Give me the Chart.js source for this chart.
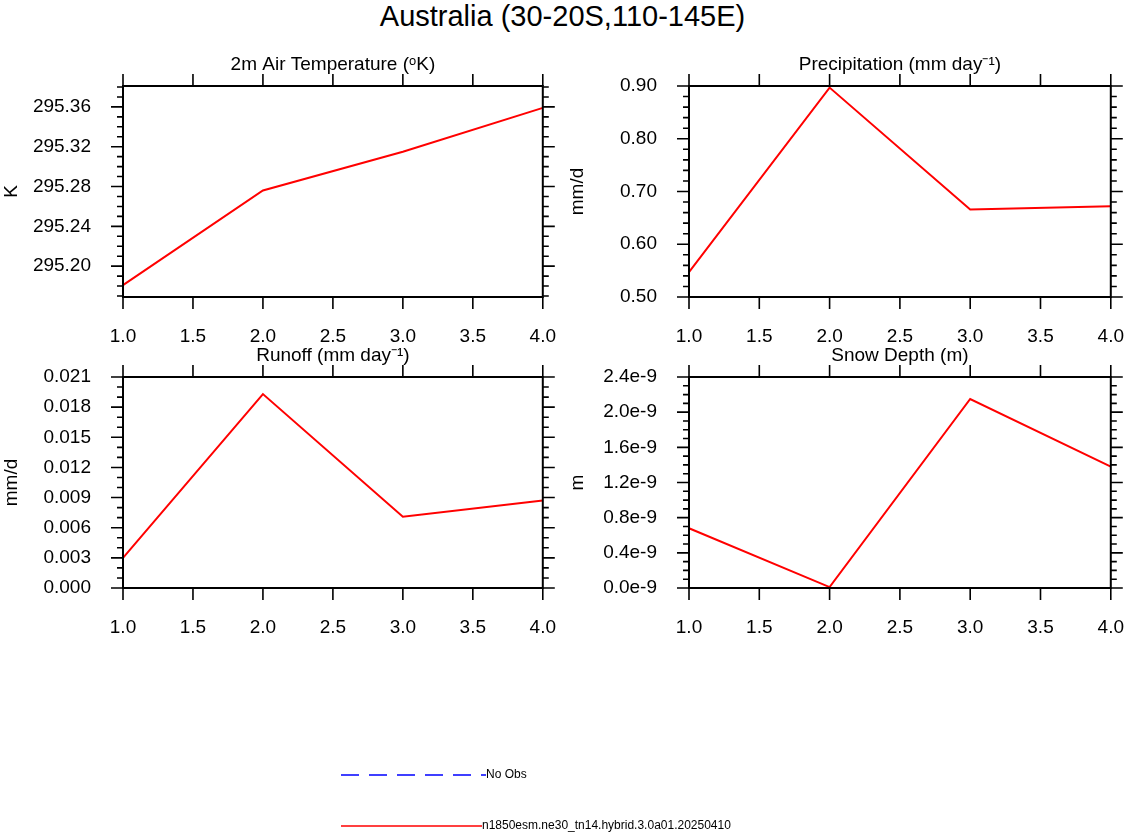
<!DOCTYPE html>
<html>
<head>
<meta charset="utf-8">
<script src="https://cdn.jsdelivr.net/npm/chart.js@4.4.1/dist/chart.umd.min.js"></script>
<style>
  body { margin: 0; background: #fff; width: 1125px; height: 834px; position: relative; overflow: hidden; font-family: "Liberation Sans", Arial, sans-serif; }
  canvas.panel { position: absolute; }
  #title { position: absolute; top: 0; left: 0; width: 1125px; text-align: center; font-size: 29px; line-height: 32px; }
  #legend { position: absolute; left: 0; top: 0; }
</style>
</head>
<body>
<div id="title">Australia (30-20S,110-145E)</div>
<canvas id="c1" class="panel" style="left:0px;top:40px;width:576px;height:320px" width="576" height="320"></canvas>
<canvas id="c2" class="panel" style="left:566px;top:40px;width:578px;height:320px" width="578" height="320"></canvas>
<canvas id="c3" class="panel" style="left:0px;top:331px;width:576px;height:320px" width="576" height="320"></canvas>
<canvas id="c4" class="panel" style="left:566px;top:331px;width:578px;height:320px" width="578" height="320"></canvas>
<canvas id="legend" width="1125" height="834"></canvas>
<script>
// x positions (cases)
const xVals = [1, 2, 3, 4];
const xTicks = [1.0, 1.5, 2.0, 2.5, 3.0, 3.5, 4.0];

const tempVals = [295.181, 295.276, 295.315, 295.359];
const tempTicks = [295.20, 295.24, 295.28, 295.32, 295.36];
const precVals = [0.547, 0.897, 0.666, 0.672];
const precTicks = [0.50, 0.60, 0.70, 0.80, 0.90];
const runoffVals = [0.0030, 0.0193, 0.0071, 0.0087];
const runoffTicks = [0.000, 0.003, 0.006, 0.009, 0.012, 0.015, 0.018, 0.021];
const snowVals = [0.68e-9, 0.01e-9, 2.15e-9, 1.38e-9];
const snowTicks = [0, 0.4e-9, 0.8e-9, 1.2e-9, 1.6e-9, 2.0e-9, 2.4e-9];

const FONT = '"Liberation Sans", Arial, sans-serif';

// frame + outward ticks on all four sides, plus panel title
const framePlugin = {
  id: 'frame',
  afterDraw(chart, args, opts) {
    const ctx = chart.ctx, a = chart.chartArea;
    const xs = chart.scales.x, ys = chart.scales.y;
    ctx.save();
    ctx.strokeStyle = '#000';
    ctx.lineWidth = 2;
    ctx.strokeRect(a.left, a.top, a.right - a.left, a.bottom - a.top);
    ctx.lineWidth = 1.6;
    ctx.beginPath();
    opts.xTicks.forEach(v => {
      const px = xs.getPixelForValue(v);
      ctx.moveTo(px, a.bottom); ctx.lineTo(px, a.bottom + 12);
      ctx.moveTo(px, a.top); ctx.lineTo(px, a.top - 12);
    });
    const yt = opts.yTicks;
    const step = (yt[1] - yt[0]) / opts.minor;
    const n0 = Math.ceil((ys.min - yt[0]) / step - 1e-6);
    const n1 = Math.floor((ys.max - yt[0]) / step + 1e-6);
    for (let i = n0; i <= n1; i++) {
      const py = ys.getPixelForValue(yt[0] + i * step);
      const len = (i % opts.minor === 0) ? 12 : 6;
      ctx.moveTo(a.left, py); ctx.lineTo(a.left - len, py);
      ctx.moveTo(a.right, py); ctx.lineTo(a.right + len, py);
    }
    ctx.stroke();
    ctx.fillStyle = '#000';
    ctx.font = '19px ' + FONT;
    ctx.textAlign = 'center';
    ctx.fillText(opts.title, (a.left + a.right) / 2, a.top - 16);
    ctx.restore();
  }
};

function makePanel(id, vals, yTicks, yMin, yMax, minor, yTitle, title, fmt) {
  new Chart(document.getElementById(id), {
    type: 'line',
    data: {
      datasets: [{
        data: xVals.map((x, i) => ({ x: x, y: vals[i] })),
        borderColor: '#ff0000',
        borderWidth: 2,
        pointRadius: 0,
        tension: 0,
        clip: false
      }]
    },
    options: {
      responsive: false,
      maintainAspectRatio: false,
      animation: false,
      layout: { padding: { left: 0, right: 0, top: 46, bottom: 3 } },
      plugins: {
        legend: { display: false },
        tooltip: { enabled: false },
        frame: { xTicks: xTicks, yTicks: yTicks, minor: minor, title: title }
      },
      scales: {
        x: {
          type: 'linear', min: 1, max: 4,
          grid: { display: false }, border: { display: false },
          afterBuildTicks: s => { s.ticks = xTicks.map(v => ({ value: v })); },
          afterFit: s => { s.height = 60; },
          ticks: { color: '#000', font: { size: 19, family: FONT }, padding: 20, maxRotation: 0,
                   callback: v => v.toFixed(1) }
        },
        y: {
          type: 'linear', min: yMin, max: yMax,
          grid: { display: false }, border: { display: false },
          afterBuildTicks: s => { s.ticks = yTicks.map(v => ({ value: v })); },
          afterFit: s => { s.width = 123; },
          title: { display: true, text: yTitle, color: '#000', font: { size: 19, family: FONT }, padding: 0 },
          ticks: { color: '#000', font: { size: 19, family: FONT }, padding: 24, callback: fmt }
        }
      }
    },
    plugins: [framePlugin]
  });
}

makePanel('c1', tempVals, tempTicks, 295.169, 295.381, 4, 'K', '2m Air Temperature (\u1D52K)', v => v.toFixed(2));
makePanel('c2', precVals, precTicks, 0.50, 0.90, 5, 'mm/d', 'Precipitation (mm day\u207B\u00B9)', v => v.toFixed(2));
makePanel('c3', runoffVals, runoffTicks, 0, 0.021, 3, 'mm/d', 'Runoff (mm day\u207B\u00B9)', v => v.toFixed(3));
makePanel('c4', snowVals, snowTicks, 0, 2.4e-9, 4, 'm', 'Snow Depth (m)', v => (v * 1e9).toFixed(1) + 'e-9');

// legend
const lg = document.getElementById('legend').getContext('2d');
lg.lineWidth = 1.5;
lg.strokeStyle = '#0000ff';
lg.setLineDash([18, 10]);
lg.beginPath(); lg.moveTo(341, 775); lg.lineTo(486, 775); lg.stroke();
lg.setLineDash([]);
lg.strokeStyle = '#ff0000';
lg.beginPath(); lg.moveTo(341, 826); lg.lineTo(482, 826); lg.stroke();
lg.fillStyle = '#000';
lg.font = '12px ' + FONT;
lg.textBaseline = 'middle';
lg.fillText('No Obs', 486, 775);
lg.fillText('n1850esm.ne30_tn14.hybrid.3.0a01.20250410', 482, 826);
</script>
</body>
</html>
